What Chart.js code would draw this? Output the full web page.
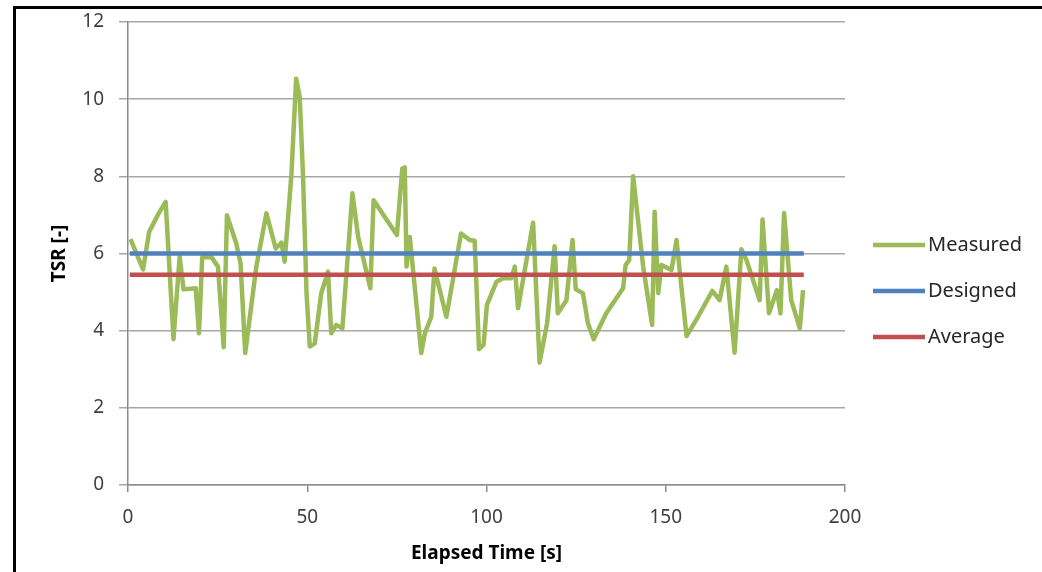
<!DOCTYPE html>
<html>
<head>
<meta charset="utf-8">
<script src="https://cdn.jsdelivr.net/npm/chart.js@4/dist/chart.umd.min.js"></script>
<style>
  html, body { margin: 0; padding: 0; background: #fff; }
  canvas { display: block; }
</style>
</head>
<body>
<canvas id="c" width="1042" height="572"></canvas>
<script>
// ---- data ----
const seriesNames = ["Measured", "Designed", "Average"];
const seriesColors = ["#9bbb59", "#4f81bd", "#c0504d"];

const elapsedTime = [
  0.7, 4.2, 5.9, 8.8, 10.5, 12.7, 14.4, 15.5, 18.9, 19.8,
  20.7, 23.3, 25.1, 26.7, 27.6, 30.2, 31.4, 32.7, 35.8, 38.6,
  41.2, 42.8, 43.7, 45.6, 46.9, 47.9, 48.8, 49.8, 50.7, 52.1,
  53.9, 55.8, 56.7, 58.1, 59.8, 62.6, 64.2, 67.6, 68.5, 75.0,
  76.5, 77.2, 77.7, 78.6, 81.8, 82.8, 84.6, 85.5, 88.8, 92.9,
  95.3, 96.7, 97.9, 99.2, 100.1, 102.8, 104.6, 106.9, 107.9, 108.8,
  113.0, 114.8, 116.9, 119.0, 119.9, 122.3, 124.0, 124.9, 126.9, 128.3,
  129.9, 133.4, 138.1, 138.8, 139.8, 140.9, 143.7, 146.2, 146.9, 147.9,
  148.8, 151.6, 153.0, 155.8, 159.0, 163.0, 165.0, 166.9, 169.2, 171.1,
  172.5, 176.2, 177.0, 178.8, 181.0, 182.0, 183.0, 185.0, 187.4, 188.3
];
const measuredTSR = [
  6.37, 5.59, 6.56, 7.08, 7.34, 3.78, 5.92, 5.07, 5.10, 3.93,
  5.90, 5.90, 5.66, 3.57, 6.99, 6.26, 5.74, 3.42, 5.66, 7.04,
  6.13, 6.28, 5.79, 8.07, 10.53, 10.05, 8.07, 4.97, 3.59, 3.67,
  4.97, 5.53, 3.93, 4.15, 4.06, 7.56, 6.43, 5.10, 7.38, 6.48,
  8.20, 8.23, 5.66, 6.43, 3.42, 3.93, 4.36, 5.61, 4.36, 6.52,
  6.35, 6.33, 3.52, 3.63, 4.66, 5.27, 5.36, 5.36, 5.66, 4.58,
  6.80, 3.17, 4.19, 6.19, 4.45, 4.79, 6.35, 5.07, 4.97, 4.19,
  3.78, 4.45, 5.10, 5.70, 5.83, 8.00, 5.66, 4.15, 7.08, 4.97,
  5.70, 5.57, 6.35, 3.86, 4.36, 5.03, 4.79, 5.66, 3.43, 6.11,
  5.83, 4.79, 6.88, 4.45, 5.05, 4.45, 7.05, 4.79, 4.06, 5.05
];
const refTimeSpan = [0.5, 188.5];
const designedTSR = [6.0, 6.0];
const averageTSR = [5.45, 5.45];

const xTicks = [0, 50, 100, 150, 200];
const yTicks = [0, 2, 4, 6, 8, 10, 12];

// ---- build datasets ----
const toPts = (xs, ys) => xs.map((x, i) => ({ x: x, y: ys[i] }));
const datasets = [
  { label: seriesNames[0], data: toPts(elapsedTime, measuredTSR) },
  { label: seriesNames[1], data: toPts(refTimeSpan, designedTSR) },
  { label: seriesNames[2], data: toPts(refTimeSpan, averageTSR) }
].map((d, i) => Object.assign(d, {
  borderColor: seriesColors[i],
  backgroundColor: seriesColors[i],
  borderWidth: 4.5,
  pointRadius: 0,
  tension: 0,
  borderJoinStyle: 'round',
  borderCapStyle: 'butt',
  fill: false
}));
// draw the flat lines on top of the measured line
datasets[0].order = 3; datasets[1].order = 2; datasets[2].order = 1;

const FONT = "'Noto Sans', 'DejaVu Sans', sans-serif";

const framePlugin = {
  id: 'frame',
  beforeDraw(chart) {
    const ctx = chart.ctx;
    ctx.save();
    ctx.fillStyle = '#fff';
    ctx.fillRect(0, 0, chart.width, chart.height);
    ctx.fillStyle = '#000';
    ctx.fillRect(13, 6, 3, chart.height);
    ctx.fillRect(13, 6, chart.width, 3);
    ctx.restore();
  }
};

const legendPlugin = {
  id: 'sideLegend',
  afterDraw(chart) {
    const ctx = chart.ctx;
    const a = chart.chartArea;
    ctx.save();
    ctx.font = "20px " + FONT;
    ctx.textBaseline = 'middle';
    ctx.textAlign = 'left';
    chart.data.datasets.forEach((ds, i) => {
      const y = a.top + 223 + i * 46;
      const x0 = a.right + 28;
      ctx.strokeStyle = ds.borderColor;
      ctx.lineWidth = 4.5;
      ctx.beginPath();
      ctx.moveTo(x0, y);
      ctx.lineTo(x0 + 52, y);
      ctx.stroke();
      ctx.fillStyle = '#262626';
      ctx.fillText(ds.label, x0 + 55, y);
    });
    ctx.restore();
  }
};

new Chart(document.getElementById('c'), {
  type: 'line',
  data: { datasets: datasets },
  plugins: [framePlugin, legendPlugin],
  options: {
    responsive: false,
    animation: false,
    devicePixelRatio: 1,
    layout: { padding: { top: 22, right: 197, bottom: 0, left: 0 } },
    plugins: { legend: { display: false }, tooltip: { enabled: false } },
    scales: {
      x: {
        type: 'linear',
        min: xTicks[0],
        max: xTicks[xTicks.length - 1],
        afterBuildTicks: (s) => { s.ticks = xTicks.map(v => ({ value: v })); },
        afterFit: (s) => { s.height = 87; },
        ticks: { font: { family: FONT, size: 19 }, color: '#404040', padding: 14, maxRotation: 0 },
        grid: { drawOnChartArea: false, drawTicks: true, tickLength: 7, color: '#8c8c8c', lineWidth: 1.5 },
        border: { display: true, color: '#8c8c8c', width: 1.5 },
        title: {
          display: true, text: 'Elapsed Time [s]', color: '#000',
          font: { family: FONT, size: 19, weight: 'bold' },
          padding: { top: 0, bottom: 7 }
        }
      },
      y: {
        type: 'linear',
        min: yTicks[0],
        max: yTicks[yTicks.length - 1],
        afterBuildTicks: (s) => { s.ticks = yTicks.map(v => ({ value: v })); },
        afterFit: (s) => { s.width = 128; s.paddingTop = 10; s.paddingBottom = 0; },
        ticks: { font: { family: FONT, size: 19 }, color: '#404040', padding: 15 },
        grid: { drawTicks: true, tickLength: 9, color: '#a6a6a6', lineWidth: 1.5 },
        border: { display: true, color: '#8c8c8c', width: 1.5 },
        title: {
          display: true, text: 'TSR [-]', color: '#000',
          font: { family: FONT, size: 19, weight: 'bold' },
          padding: { top: 48, bottom: 0 }
        }
      }
    }
  }
});
</script>
</body>
</html>
